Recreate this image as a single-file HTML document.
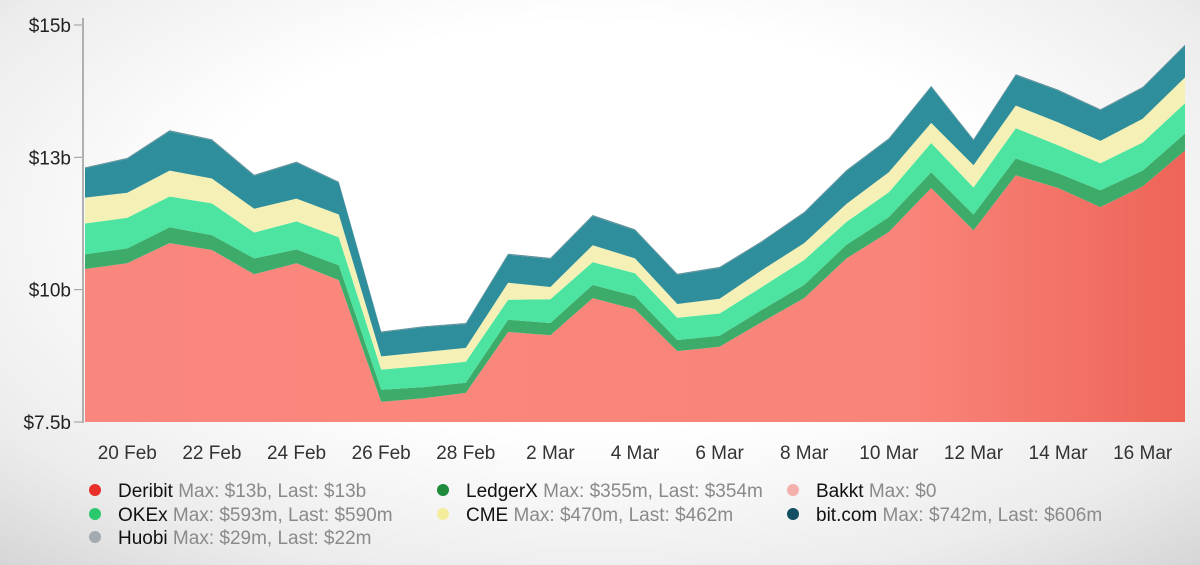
<!DOCTYPE html>
<html><head><meta charset="utf-8"><style>
html,body{margin:0;padding:0;width:1200px;height:565px;overflow:hidden}
body{background:radial-gradient(ellipse 75% 80% at 50% 40%,#ffffff 45%,#ececec 80%,#d6d6d6 100%);font-family:"Liberation Sans",sans-serif}
svg{position:absolute;left:0;top:0}
</style></head><body>
<svg id="chart" width="1200" height="565">
<defs>
<linearGradient id="redg" x1="0" x2="1" y1="0" y2="0"><stop offset="0" stop-color="#fa877e"/><stop offset="0.75" stop-color="#f98479"/><stop offset="1" stop-color="#ee6458"/></linearGradient>
</defs>
<g id="areas"></g><g id="axes"></g><g id="legend"></g>
</svg>
<script>
const dates=["19 Feb","20 Feb","21 Feb","22 Feb","23 Feb","24 Feb","25 Feb","26 Feb","27 Feb","28 Feb","1 Mar","2 Mar","3 Mar","4 Mar","5 Mar","6 Mar","7 Mar","8 Mar","9 Mar","10 Mar","11 Mar","12 Mar","13 Mar","14 Mar","15 Mar","16 Mar","17 Mar"];
const deribit=[10.39,10.50,10.88,10.75,10.29,10.50,10.18,7.88,7.95,8.05,9.20,9.14,9.84,9.63,8.84,8.92,9.39,9.84,10.59,11.09,11.92,11.12,12.16,11.92,11.56,11.95,12.63];
const ledgerx=[.28,.28,.30,.28,.30,.26,.28,.23,.21,.19,.23,.23,.25,.25,.21,.21,.23,.25,.26,.28,.30,.30,.32,.28,.32,.30,.32];
const okex=[.58,.58,.58,.60,.49,.53,.53,.38,.40,.40,.38,.45,.43,.43,.42,.42,.43,.47,.43,.47,.55,.51,.57,.53,.51,.53,.57];
const cme=[.49,.47,.49,.47,.45,.43,.43,.25,.26,.26,.32,.23,.32,.28,.26,.28,.32,.32,.34,.38,.38,.42,.43,.43,.42,.45,.49];
const bitcom=[.55,.64,.74,.72,.62,.68,.60,.45,.47,.45,.53,.53,.55,.53,.55,.58,.53,.57,.62,.62,.68,.47,.57,.60,.58,.58,.60];
const huobi=[.02,.02,.02,.02,.02,.02,.02,.02,.02,.02,.02,.02,.02,.02,.02,.02,.02,.02,.02,.02,.02,.02,.02,.02,.02,.02,.02];
const yTicks=[7.5,10,12.5,15];
const yTickLabels=["$7.5b","$10b","$13b","$15b"];
const xTickIdx=[1,3,5,7,9,11,13,15,17,19,21,23,25];
const NS="http://www.w3.org/2000/svg";
const X0=85,X1=1185,Y0=422,Y1=25,YMIN=7.5,YMAX=15;
function xs(i){return X0+i*(X1-X0)/(dates.length-1);}
function ys(v){return Y0-(Math.max(v,YMIN)-YMIN)/(YMAX-YMIN)*(Y0-Y1);}
const series=[
 {name:"deribit",vals:deribit,fill:"url(#redg)"},
 {name:"ledgerx",vals:ledgerx,fill:"#3dac6a"},
 {name:"okex",vals:okex,fill:"#4ce4a0"},
 {name:"cme",vals:cme,fill:"#f5f1b6"},
 {name:"bitcom",vals:bitcom,fill:"#2f8e9c"},
 {name:"huobi",vals:huobi,fill:"#5f8f98"}];
const areas=document.getElementById('areas');
let base=dates.map(()=>0);
series.forEach(s=>{
 const top=base.map((b,i)=>b+s.vals[i]);
 let d="";
 top.forEach((v,i)=>{d+=(i?"L":"M")+xs(i).toFixed(1)+","+ys(v).toFixed(1);});
 for(let i=dates.length-1;i>=0;i--)d+="L"+xs(i).toFixed(1)+","+ys(base[i]).toFixed(1);
 d+="Z";
 const p=document.createElementNS(NS,'path');
 p.setAttribute('d',d);p.setAttribute('fill',s.fill);
 
 
 areas.appendChild(p);
 base=top;
});
const axes=document.getElementById('axes');
const ax=document.createElementNS(NS,'line');
ax.setAttribute('x1',83);ax.setAttribute('x2',83);ax.setAttribute('y1',18);ax.setAttribute('y2',423);
ax.setAttribute('stroke','#999');ax.setAttribute('stroke-width','1.5');


axes.appendChild(ax);
yTicks.forEach((v,k)=>{
 const t=document.createElementNS(NS,'text');
 t.setAttribute('x',71);t.setAttribute('y',ys(v)+7);t.setAttribute('text-anchor','end');
 t.setAttribute('font-size','19');t.setAttribute('fill','#222');
 t.textContent=yTickLabels[k];
 
 
 axes.appendChild(t);
 const m=document.createElementNS(NS,'line');
 m.setAttribute('x1',74);m.setAttribute('x2',82);m.setAttribute('y1',ys(v));m.setAttribute('y2',ys(v));
 m.setAttribute('stroke','#999');
 
 
 axes.appendChild(m);
});
xTickIdx.forEach(i=>{
 const t=document.createElementNS(NS,'text');
 t.setAttribute('x',xs(i));t.setAttribute('y',459);t.setAttribute('text-anchor','middle');
 t.setAttribute('font-size','19');t.setAttribute('fill','#333');
 t.textContent=dates[i];
 
 
 axes.appendChild(t);
});
const legendItems=[
 ["Deribit","Max: $13b, Last: $13b","#e8302a",95,490],
 ["LedgerX","Max: $355m, Last: $354m","#1e8a3c",443,490],
 ["Bakkt","Max: $0","#f4b0ac",793,490],
 ["OKEx","Max: $593m, Last: $590m","#2cc86e",95,514],
 ["CME","Max: $470m, Last: $462m","#f4ee9c",443,514],
 ["bit.com","Max: $742m, Last: $606m","#124f62",793,514],
 ["Huobi","Max: $29m, Last: $22m","#a3aab0",95,537]];
const lg=document.getElementById('legend');
legendItems.forEach(it=>{
 const g=document.createElementNS(NS,'g');
 
 
 const c=document.createElementNS(NS,'circle');
 c.setAttribute('cx',it[3]);c.setAttribute('cy',it[4]);c.setAttribute('r',6);c.setAttribute('fill',it[2]);
 g.appendChild(c);
 const t=document.createElementNS(NS,'text');
 t.setAttribute('x',it[3]+23);t.setAttribute('y',it[4]+7);t.setAttribute('font-size','19');
 const a=document.createElementNS(NS,'tspan');a.setAttribute('fill','#111');a.textContent=it[0]+" ";
 const b=document.createElementNS(NS,'tspan');b.setAttribute('fill','#8a8a8a');b.textContent=it[1];
 t.appendChild(a);t.appendChild(b);g.appendChild(t);
 lg.appendChild(g);
});
</script>
</body></html>
